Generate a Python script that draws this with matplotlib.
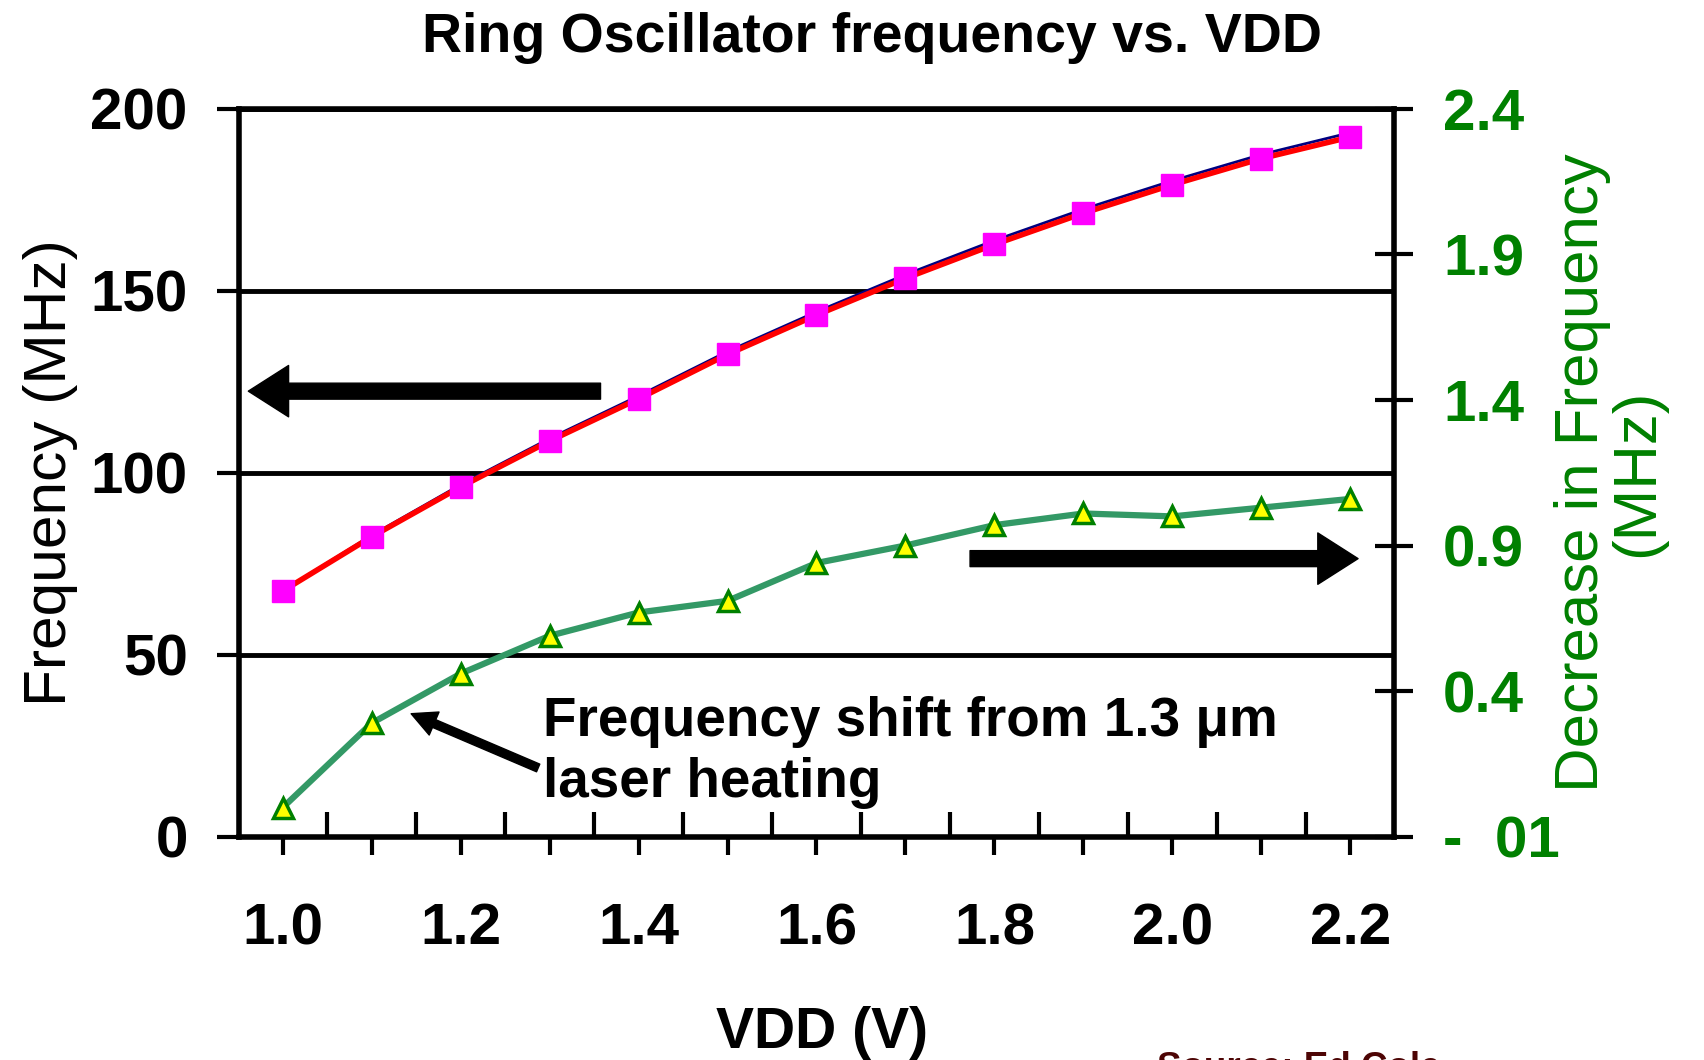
import matplotlib
matplotlib.use("Agg")
import matplotlib.pyplot as plt
from matplotlib.ticker import FixedLocator, FixedFormatter

# supply voltage sweep
vdd = [1.0, 1.1, 1.2, 1.3, 1.4, 1.5, 1.6, 1.7, 1.8, 1.9, 2.0, 2.1, 2.2]
# oscillator frequency (MHz) with and without the laser
freq_heated = [67.5, 82.4, 96.1, 108.7, 120.3, 132.5, 143.3, 153.4, 162.7, 171.3, 179.1, 186.3, 192.2]
freq_cold = [67.6, 82.8, 96.7, 109.4, 121.1, 133.3, 144.2, 154.4, 163.8, 172.4, 180.2, 187.4, 193.4]
# frequency drop caused by the laser heating (MHz)
freq_shift = [0.0, 0.29, 0.46, 0.59, 0.67, 0.71, 0.84, 0.90, 0.97, 1.01, 1.00, 1.03, 1.06]

left_ticks = [0, 50, 100, 150, 200]
right_ticks = [-0.1, 0.4, 0.9, 1.4, 1.9, 2.4]
right_labels = ["-  01", "0.4", "0.9", "1.4", "1.9", "2.4"]
x_labels = ["1.0", "", "1.2", "", "1.4", "", "1.6", "", "1.8", "", "2.0", "", "2.2"]
x_minor = [1.05, 1.15, 1.25, 1.35, 1.45, 1.55, 1.65, 1.75, 1.85, 1.95, 2.05, 2.15]

plt.rcParams["font.family"] = ["Liberation Sans", "DejaVu Sans"]
plt.rcParams["font.weight"] = "bold"

GREEN = "#008000"

fig = plt.figure(figsize=(17.04, 10.60), dpi=100)
ax = fig.add_axes([0.1403, 0.2106, 0.6777, 0.6869])

ax.plot(vdd, freq_cold, color="#000080", lw=2, zorder=3)
ax.plot(vdd, freq_heated, color="red", lw=4, marker="s", ms=16,
        mfc="#ff00ff", mec="#ff00ff", zorder=4)

ax.set_xlim(0.951, 2.249)
ax.set_ylim(0, 200)
ax.yaxis.set_major_locator(FixedLocator(left_ticks))
ax.yaxis.grid(True, color="black", lw=3.5)
ax.xaxis.set_major_locator(FixedLocator(vdd))
ax.xaxis.set_major_formatter(FixedFormatter(x_labels))
ax.xaxis.set_minor_locator(FixedLocator(x_minor))
ax.tick_params(axis="y", direction="out", length=16, width=3, pad=21, labelsize=42)
ax.tick_params(axis="x", which="major", direction="out", length=13, width=3,
               pad=34, labelsize=42)
ax.tick_params(axis="x", which="minor", direction="in", length=18, width=3)
for side in ("left", "bottom", "top"):
    ax.spines[side].set_linewidth(4)
ax.spines["right"].set_visible(False)

ax.set_ylabel("Frequency (MHz)", fontsize=43.5, fontweight="normal")
ax.yaxis.set_label_coords(-0.163, 0.5)
ax.yaxis.label.set_va("center")

ax.set_xlabel("VDD (V)", fontsize=41, fontweight="bold")
ax.xaxis.set_label_coords(0.505, -0.232)

# right-hand axis: laser induced frequency decrease
ax2 = ax.twinx()
ax2.plot(vdd, freq_shift, color="#339966", lw=4.5, marker="^", ms=15,
         mfc="yellow", mec=GREEN, mew=2.5)
ax2.set_ylim(-0.1, 2.4)
ax2.yaxis.set_major_locator(FixedLocator(right_ticks))
ax2.yaxis.set_major_formatter(FixedFormatter(right_labels))
ax2.tick_params(axis="y", direction="inout", length=27, width=3, pad=22,
                labelsize=42, labelcolor=GREEN)
for side in ("left", "bottom", "top"):
    ax2.spines[side].set_visible(False)
ax2.spines["right"].set_linewidth(4)

ax2.set_ylabel("Decrease in Frequency\n(MHz)", fontsize=44.5,
               fontweight="normal", color=GREEN, linespacing=0.95)
ax2.yaxis.set_label_coords(1.187, 0.5)
ax2.yaxis.label.set_va("center")

# big arrows telling which axis each curve belongs to
big_arrow = dict(arrowstyle="simple,head_length=29,head_width=37,tail_width=11.5",
                 mutation_scale=1, color="black", shrinkA=0, shrinkB=0)
ax.annotate("", xy=(0.008, 0.612), xytext=(0.313, 0.612),
            xycoords="axes fraction", arrowprops=big_arrow)
ax.annotate("", xy=(0.969, 0.382), xytext=(0.633, 0.382),
            xycoords="axes fraction", arrowprops=big_arrow)

# callout for the green curve
ax.annotate("", xy=(0.149, 0.169), xytext=(0.259, 0.0945),
            xycoords="axes fraction",
            arrowprops=dict(arrowstyle="simple,head_length=18,head_width=18,tail_width=6",
                            mutation_scale=1, color="black", shrinkA=0, shrinkB=0))
ax.text(0.263, 0.1384, "Frequency shift from 1.3 \u03bcm", transform=ax.transAxes,
        fontsize=39.5, va="baseline")
ax.text(0.263, 0.0547, "laser heating", transform=ax.transAxes,
        fontsize=39.5, va="baseline")

fig.text(0.512, 0.951, "Ring Oscillator frequency vs. VDD",
         fontsize=40, ha="center", va="baseline")
fig.text(0.679, -0.017, "Source: Ed Cole", fontsize=26.5, color="#4d0505",
         va="baseline")

fig.savefig("out.png", dpi=100, facecolor="white")
